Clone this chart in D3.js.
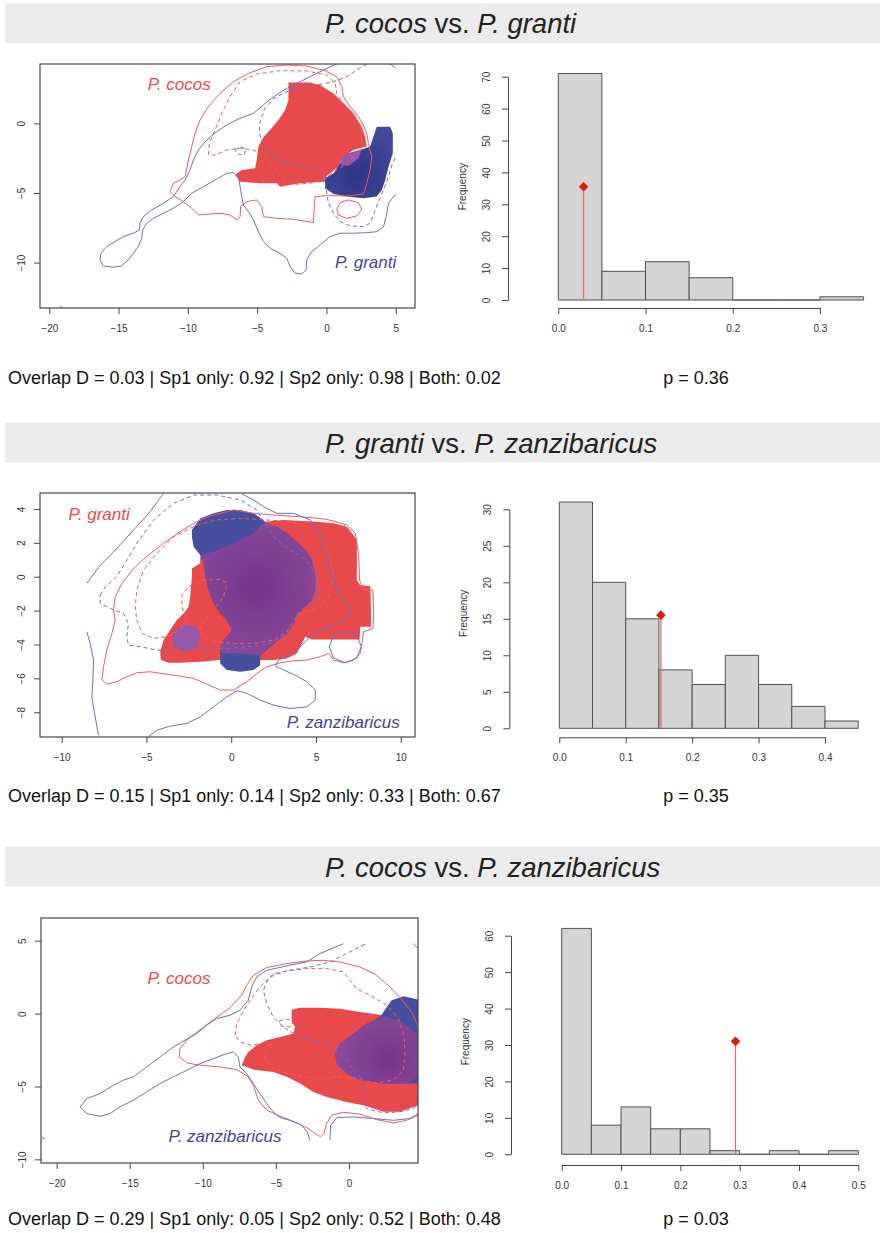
<!DOCTYPE html>
<html>
<head>
<meta charset="utf-8">
<script src="https://cdn.jsdelivr.net/npm/d3@7"></script>
<style>
body { margin: 0; background: #fff; }
svg text { font-family: "Liberation Sans", Arial, sans-serif; }
</style>
</head>
<body>
<svg id="chart" width="880" height="1233"></svg>
<script>
// ---- titles and summary text ----
const titleSpecies = [
    ["P. cocos", "P. granti"],
    ["P. granti", "P. zanzibaricus"],
    ["P. cocos", "P. zanzibaricus"]
];
const statLines = [
    "Overlap D = 0.03 | Sp1 only: 0.92 | Sp2 only: 0.98 | Both: 0.02",
    "Overlap D = 0.15 | Sp1 only: 0.14 | Sp2 only: 0.33 | Both: 0.67",
    "Overlap D = 0.29 | Sp1 only: 0.05 | Sp2 only: 0.52 | Both: 0.48"
];
const pLines = ["p = 0.36", "p = 0.35", "p = 0.03"];

// ---- null distribution histograms ----
const histBreaks = [
    [0, 0.05, 0.1, 0.15, 0.2, 0.25, 0.3, 0.35],
    [0, 0.05, 0.1, 0.15, 0.2, 0.25, 0.3, 0.35, 0.4, 0.45],
    [0, 0.05, 0.1, 0.15, 0.2, 0.25, 0.3, 0.35, 0.4, 0.45, 0.5]
];
const histCounts = [
    [71, 9, 12, 7, 0, 0, 1],
    [31, 20, 15, 8, 6, 10, 6, 3, 1],
    [62, 8, 13, 7, 7, 1, 0, 1, 0, 1]
];
const histXTicks = [
    [0, 0.1, 0.2, 0.3],
    [0, 0.1, 0.2, 0.3, 0.4],
    [0, 0.1, 0.2, 0.3, 0.4, 0.5]
];
const histYTicks = [
    [0, 10, 20, 30, 40, 50, 60, 70],
    [0, 5, 10, 15, 20, 25, 30],
    [0, 10, 20, 30, 40, 50, 60]
];
const observedD = [0.029, 0.153, 0.293];
const observedMark = [35.5, 15.5, 31];

// ---- niche space axes ----
const nicheXDomain = [[-20.67, 6.39], [-11.28, 10.84], [-21.07, 4.72]];
const nicheYDomain = [[-13.26, 4.26], [-9.46, 4.94], [-10.25, 6.56]];
const nicheXTicks = [[-20, -15, -10, -5, 0, 5], [-10, -5, 0, 5, 10], [-20, -15, -10, -5, 0]];
const nicheYTicks = [[-10, -5, 0], [-8, -6, -4, -2, 0, 2, 4], [-10, -5, 0, 5]];

// ---- P. cocos vs P. granti ----
const cgRedFill = [[-2.74,2.94],[-1.18,2.94],[-0.46,2.75],[0.51,2.15],[1.23,1.44],[1.95,0.72],[2.55,-0.24],[2.79,-0.96],[2.91,-1.67],[1.95,-1.91],[1.23,-2.39],[0.87,-3.11],[0.02,-3.78],[-0.10,-4.19],[-0.94,-4.23],[-1.90,-4.31],[-2.62,-4.43],[-3.35,-4.55],[-3.59,-4.31],[-4.79,-4.31],[-6.23,-4.19],[-6.59,-3.71],[-6.11,-3.35],[-5.15,-3.23],[-5.03,-2.63],[-4.91,-1.67],[-4.55,-1.00],[-4.07,-0.48],[-3.47,0.24],[-2.98,0.96],[-2.74,1.67]];
const cgBlueFill = [[3.63,-0.24],[4.60,-0.24],[4.79,-0.72],[4.79,-2.15],[4.48,-3.11],[4.24,-4.07],[4.00,-4.78],[3.63,-5.26],[2.67,-5.38],[1.47,-5.26],[0.51,-5.07],[-0.10,-4.67],[-0.10,-3.95],[0.51,-3.59],[0.99,-2.87],[1.47,-2.27],[2.43,-1.91],[3.15,-1.67],[3.39,-0.96]];
const cgOverlap = [[1.35,-2.20],[2.55,-1.87],[2.31,-2.51],[1.59,-3.06],[1.03,-2.99],[1.11,-2.51]];
const cgRedOuter = [[-10.20,-3.83],[-9.96,-2.63],[-9.72,-1.67],[-9.48,-0.72],[-9.12,0.24],[-8.52,1.20],[-7.68,2.15],[-6.71,2.99],[-5.63,3.59],[-4.31,4.07],[-2.86,4.19],[-1.42,4.11],[-0.10,3.78],[0.75,3.35],[1.11,2.63],[1.23,1.91],[1.71,1.20],[2.31,0.48],[2.67,-0.12],[2.91,-0.72],[3.03,-1.44],[3.27,-2.39],[3.15,-3.35],[2.91,-4.31],[2.67,-5.07],[1.47,-5.22],[0.02,-5.19],[-0.82,-5.26],[-0.89,-6.22],[-0.94,-7.13],[-2.38,-6.89],[-3.59,-6.82],[-4.55,-6.70],[-4.67,-5.98],[-5.03,-5.50],[-5.75,-5.62],[-6.19,-5.98],[-6.23,-6.70],[-6.47,-6.94],[-6.96,-6.58],[-7.68,-6.46],[-8.40,-6.51],[-9.24,-6.58],[-9.72,-6.10],[-10.32,-5.62],[-10.93,-5.26],[-11.29,-4.90],[-11.05,-4.31],[-10.57,-4.07]];
const cgRedLoop = [[0.75,-6.17],[0.99,-5.69],[1.59,-5.50],[2.31,-5.69],[2.55,-6.17],[2.19,-6.65],[1.47,-6.82],[0.87,-6.58]];
const cgRedInner = [[-8.52,-2.27],[-8.45,-1.44],[-8.04,-0.48],[-7.56,0.72],[-6.96,1.91],[-6.23,2.99],[-5.03,3.54],[-3.35,3.78],[-1.42,3.76],[0.02,3.47],[0.63,2.87],[0.75,2.15],[1.23,1.44],[2.07,0.48],[2.67,-0.72],[2.43,-1.91],[1.47,-2.87],[0.26,-3.71],[-0.94,-4.26],[-2.14,-4.38],[-2.98,-4.07],[-3.59,-3.35],[-4.31,-2.51],[-5.27,-1.91],[-6.23,-1.79],[-7.20,-1.91],[-8.04,-2.27]];
const cgBlueOuter = [[0.75,4.26],[0.02,3.95],[-0.94,3.47],[-1.90,2.99],[-2.86,2.51],[-3.83,1.91],[-4.55,1.32],[-5.27,0.72],[-6.23,0.36],[-7.20,-0.12],[-7.92,-0.60],[-8.64,-1.20],[-9.24,-1.91],[-9.60,-2.63],[-9.84,-3.35],[-10.20,-4.07],[-10.57,-4.55],[-11.05,-5.26],[-11.77,-5.74],[-12.61,-6.22],[-13.21,-6.70],[-13.45,-7.18],[-13.50,-7.66],[-13.94,-7.89],[-14.66,-8.13],[-15.26,-8.49],[-15.86,-8.85],[-16.27,-9.33],[-16.34,-9.81],[-16.10,-10.24],[-15.38,-10.33],[-14.78,-10.24],[-14.30,-9.81],[-13.94,-9.33],[-13.57,-8.85],[-13.33,-8.25],[-13.26,-7.66],[-12.97,-7.18],[-12.49,-6.82],[-11.77,-6.46],[-11.05,-6.10],[-10.32,-5.62],[-9.72,-5.02],[-8.88,-4.55],[-8.04,-4.07],[-7.20,-3.59],[-6.71,-3.54],[-6.35,-3.83],[-6.23,-4.55],[-6.11,-5.26],[-5.99,-5.86],[-5.63,-6.34],[-5.27,-6.94],[-4.91,-7.78],[-4.55,-8.49],[-4.07,-8.97],[-3.35,-9.33],[-2.86,-9.69],[-2.62,-10.29],[-2.26,-10.77],[-1.78,-10.81],[-1.47,-10.53],[-1.42,-9.81],[-1.06,-9.21],[-0.46,-8.73],[0.26,-8.13],[0.99,-7.89],[1.95,-7.89],[2.91,-7.85],[3.63,-7.78],[4.12,-7.42],[4.31,-6.70],[4.48,-5.74],[4.84,-5.26],[5.01,-5.14]];
const cgBlueOuterTip = [[4.60,4.26],[5.01,3.95]];
const cgBlueStray = [[-19.2,-13.1],[-19.0,-13.4]];
const cgBlueInner = [[2.91,4.26],[2.19,3.83],[1.47,3.35],[0.51,2.99],[-0.70,2.75],[-1.90,2.51],[-2.86,2.27],[-3.83,1.79],[-4.43,1.08],[-4.79,0.12],[-4.84,-0.72],[-4.67,-1.32],[-4.19,-1.91],[-3.59,-2.51],[-2.62,-2.87],[-1.42,-2.99],[-0.46,-3.30],[-0.10,-3.83],[-0.02,-4.78],[0.14,-5.74],[0.51,-6.46],[0.99,-7.06],[1.71,-7.37],[2.67,-7.42],[3.15,-7.18],[3.39,-6.58],[3.75,-5.62],[4.12,-4.78],[4.48,-3.83],[4.72,-2.99],[5.01,-2.39]];
const cgBlueInnerLoop = [[-6.59,-1.91],[-6.23,-1.67],[-5.80,-1.87],[-5.94,-2.27],[-6.43,-2.20]];

// ---- P. granti vs P. zanzibaricus ----
const gzRedFill = [[-2.32,0.00],[-2.32,0.49],[-1.83,0.79],[-1.83,1.18],[-1.04,1.38],[0.14,1.97],[1.32,2.56],[1.91,3.25],[3.09,3.35],[5.05,3.25],[6.04,3.15],[6.82,2.95],[7.12,2.56],[7.41,2.17],[7.41,1.18],[7.41,-0.20],[7.61,-0.51],[8.20,-0.55],[8.24,-1.77],[8.24,-2.95],[7.61,-2.95],[7.57,-3.70],[5.25,-3.70],[4.76,-3.70],[4.37,-3.54],[4.17,-3.94],[3.87,-4.53],[3.28,-4.82],[2.50,-4.92],[1.71,-4.92],[0.92,-4.92],[0.14,-4.96],[-0.65,-4.92],[-1.83,-5.02],[-3.01,-5.08],[-3.70,-5.08],[-4.15,-4.92],[-4.19,-4.43],[-3.99,-3.74],[-3.60,-3.15],[-3.21,-2.56],[-2.81,-2.17],[-2.52,-1.77],[-2.42,-1.18]];
const gzBlueFill = [[-2.32,2.76],[-1.83,3.44],[-1.04,3.74],[-0.26,3.94],[0.53,3.94],[1.32,3.74],[1.91,3.35],[2.10,3.05],[2.69,2.95],[3.28,2.56],[3.87,2.07],[4.46,1.48],[4.76,0.98],[4.96,0.00],[4.96,-0.79],[4.76,-1.38],[4.27,-1.87],[3.87,-2.26],[3.68,-2.76],[3.28,-3.35],[2.79,-3.74],[2.10,-4.33],[1.71,-4.63],[1.71,-5.22],[1.32,-5.51],[0.53,-5.61],[-0.26,-5.51],[-0.65,-5.12],[-0.65,-4.33],[-0.55,-3.84],[-0.26,-3.54],[0.04,-3.15],[-0.26,-2.56],[-0.65,-2.17],[-1.04,-1.57],[-1.34,-0.79],[-1.53,0.00],[-1.63,0.79],[-1.83,1.28],[-2.22,1.77],[-2.32,2.36]];
const gzOverlap = [[-1.83,1.28],[-1.04,1.48],[0.14,1.97],[1.32,2.56],[1.91,3.15],[2.69,2.95],[3.28,2.56],[3.87,2.07],[4.46,1.48],[4.76,0.98],[4.96,0.00],[4.96,-0.79],[4.76,-1.38],[4.27,-1.87],[3.87,-2.26],[3.68,-2.76],[3.28,-3.35],[2.79,-3.74],[2.10,-4.23],[1.71,-4.63],[0.53,-4.53],[-0.45,-4.53],[-0.65,-4.33],[-0.55,-3.84],[-0.26,-3.54],[0.04,-3.15],[-0.26,-2.56],[-0.65,-2.17],[-1.04,-1.57],[-1.34,-0.79],[-1.53,0.00],[-1.63,0.79]];
const gzOverlapSmall = [[-3.50,-3.54],[-3.30,-3.05],[-2.71,-2.85],[-2.03,-2.95],[-1.83,-3.54],[-2.03,-4.23],[-2.71,-4.43],[-3.40,-4.13]];
const gzRedOuter = [[-7.63,-6.10],[-7.53,-5.31],[-7.34,-4.33],[-7.04,-3.35],[-6.84,-2.56],[-6.94,-1.97],[-6.84,-1.18],[-6.45,-0.39],[-5.76,0.49],[-4.88,1.28],[-3.99,1.97],[-3.01,2.66],[-2.03,3.25],[-1.04,3.64],[0.14,3.94],[1.32,3.74],[2.50,3.64],[4.07,3.54],[5.64,3.39],[6.82,3.05],[7.32,2.56],[7.51,1.38],[7.57,-0.20],[7.81,-0.79],[8.36,-0.79],[8.40,-2.17],[8.36,-3.05],[7.81,-3.25],[7.71,-3.94],[7.61,-4.53],[7.22,-4.92],[6.63,-5.08],[6.04,-4.92],[5.74,-4.53],[5.25,-4.72],[4.46,-4.92],[3.68,-4.96],[2.89,-5.08],[2.10,-5.31],[1.51,-5.71],[0.92,-6.20],[0.14,-6.69],[-0.65,-6.69],[-1.44,-6.34],[-2.22,-6.00],[-3.01,-5.87],[-3.80,-5.75],[-4.78,-5.61],[-5.57,-5.67],[-6.16,-5.91],[-6.75,-6.20],[-7.34,-6.34]];
const gzRedInner = [[-2.03,3.05],[-0.85,3.35],[0.53,3.44],[2.10,3.35],[3.48,3.25],[4.46,2.95],[5.25,2.36],[5.84,1.18],[6.04,0.00],[5.74,-1.18],[5.15,-1.87],[4.27,-2.07],[3.68,-2.56],[3.28,-3.25],[2.50,-3.74],[1.32,-3.94],[0.14,-3.94],[-0.85,-3.84],[-1.44,-3.64],[-1.83,-3.25],[-1.63,-2.56],[-1.04,-1.97],[-0.45,-1.18],[-0.26,-0.39],[-0.65,-0.16],[-1.63,-0.20],[-2.52,-0.59],[-2.91,-1.08],[-2.91,-1.77],[-2.62,-2.56],[-3.01,-3.15],[-3.80,-3.54],[-4.58,-3.64],[-5.27,-3.35],[-5.57,-2.56],[-5.66,-1.77],[-5.57,-0.79],[-5.17,0.39],[-4.48,1.28],[-3.40,2.36]];
const gzBlueOuterA = [[-3.99,4.92],[-4.78,3.84],[-5.76,2.76],[-6.84,1.57],[-7.83,0.55],[-8.52,-0.39]];
const gzBlueOuterB = [[-8.52,-3.25],[-8.32,-3.94],[-8.12,-4.92],[-8.16,-6.10],[-8.22,-7.09],[-8.06,-8.07],[-7.83,-9.35]];
const gzBlueOuterC = [[-4.88,-9.45],[-4.39,-9.06],[-3.60,-8.82],[-2.62,-8.66],[-1.83,-8.27],[-1.04,-7.68],[-0.26,-7.09],[0.33,-6.73],[0.92,-6.89],[1.71,-7.28],[2.50,-7.58],[3.48,-7.78],[4.46,-7.68],[4.96,-7.28],[4.96,-6.69],[4.46,-6.20],[3.78,-5.81],[3.09,-5.51],[2.60,-5.28],[2.79,-4.92],[3.38,-4.63],[3.97,-4.23],[4.56,-3.64],[5.25,-3.15],[6.04,-2.85],[6.82,-2.36],[7.12,-2.07],[6.82,-1.67],[6.23,-0.79],[5.84,0.39],[5.55,1.57],[5.25,2.56],[4.66,3.35],[3.68,3.74],[2.69,3.74],[1.91,4.13],[1.32,4.53],[0.63,4.88]];
const gzBlueLoop = [[5.78,-4.13],[6.04,-3.46],[6.73,-3.19],[7.41,-3.46],[7.67,-4.13],[7.41,-4.80],[6.73,-5.08],[6.04,-4.80]];
const gzBlueInner = [[-7.73,-1.08],[-7.43,-0.59],[-6.75,0.00],[-6.16,0.98],[-5.57,1.97],[-4.58,3.35],[-3.40,4.33],[-2.22,4.82],[-0.85,4.82],[0.53,4.53],[1.51,3.94],[2.10,2.95],[2.69,2.17],[3.48,1.57],[4.46,0.98],[5.05,0.00],[5.15,-0.79],[4.86,-1.57],[4.07,-1.97],[3.68,-2.56],[3.28,-3.35],[2.69,-3.74],[1.91,-4.04],[0.92,-4.13],[-0.26,-4.23],[-1.83,-4.23],[-3.40,-4.33],[-4.39,-4.33],[-5.37,-4.13],[-6.06,-4.04],[-6.16,-3.54],[-6.06,-2.76],[-6.35,-2.17],[-7.14,-1.87],[-7.73,-1.57]];

// ---- P. cocos vs P. zanzibaricus ----
const czRedFill = [[-3.92,0.27],[-3.35,0.41],[-1.98,0.41],[-0.62,0.34],[0.75,0.11],[2.35,-0.11],[4.74,-0.46],[4.74,-4.34],[4.74,-6.29],[3.49,-6.74],[2.35,-6.74],[0.98,-6.29],[-0.16,-6.06],[-1.53,-5.72],[-2.44,-5.37],[-3.35,-4.80],[-4.26,-4.34],[-5.18,-4.00],[-6.54,-3.84],[-7.34,-3.54],[-7.11,-2.97],[-6.89,-2.63],[-6.32,-2.17],[-5.63,-1.83],[-4.72,-1.60],[-3.81,-1.37],[-3.69,-0.91],[-3.92,-0.57]];
const czBlueFill = [[2.46,0.27],[2.92,0.91],[3.72,1.19],[4.74,0.96],[4.74,-4.80],[3.94,-4.80],[2.35,-4.80],[0.75,-4.57],[-0.16,-4.12],[-0.84,-3.43],[-0.96,-2.74],[-0.62,-2.06],[0.30,-1.37],[1.21,-0.69],[2.12,-0.23]];
const czOverlap = [[1.09,-0.73],[2.35,-0.23],[3.49,-0.46],[4.74,-1.49],[4.74,-4.34],[3.94,-4.80],[2.35,-4.80],[0.75,-4.57],[-0.16,-4.12],[-0.84,-3.43],[-0.96,-2.74],[-0.62,-2.06],[0.30,-1.37]];
const czRedOuter = [[4.74,-6.97],[3.94,-7.32],[3.03,-7.50],[1.89,-7.27],[0.75,-6.90],[-0.39,-6.77],[-1.19,-6.97],[-1.53,-7.54],[-1.71,-8.23],[-1.94,-8.46],[-2.33,-8.23],[-2.78,-7.89],[-3.47,-7.54],[-4.49,-7.13],[-5.63,-6.63],[-6.20,-5.94],[-6.50,-5.03],[-6.89,-4.34],[-7.68,-3.84],[-8.82,-3.66],[-10.19,-3.54],[-11.10,-3.38],[-11.61,-2.97],[-11.56,-2.40],[-10.99,-1.71],[-10.08,-1.03],[-9.17,-0.34],[-8.14,0.41],[-7.34,1.26],[-7.00,1.94],[-6.54,2.63],[-5.63,3.16],[-4.26,3.43],[-2.90,3.61],[-1.76,3.66],[-0.62,3.54],[0.75,3.20],[1.78,2.70],[2.69,1.94],[3.49,1.10],[4.29,0.11],[4.74,-0.91]];
const czRedInner = [[-7.80,-1.49],[-7.68,-0.69],[-7.00,0.57],[-6.20,1.71],[-5.40,2.51],[-4.26,2.93],[-2.90,3.09],[-1.53,3.09],[-0.39,2.86],[0.07,2.29],[0.52,1.71],[1.44,1.26],[2.58,0.57],[3.37,-0.34],[3.76,-1.49],[3.83,-2.74],[3.72,-3.89],[3.03,-4.57],[1.89,-4.76],[0.75,-4.53],[0.07,-4.34],[-1.07,-4.34],[-1.98,-4.57],[-2.90,-4.34],[-4.04,-4.12],[-5.18,-3.77],[-5.75,-3.20],[-5.75,-2.63],[-5.40,-2.17],[-6.09,-2.06],[-6.77,-2.17],[-7.46,-1.94]];
const czRedInnerLoop = [[-4.77,-0.50],[-4.26,-0.37],[-3.81,-0.50],[-3.99,-0.91],[-4.61,-0.87]];
const czBlueOuterA = [[-0.39,4.80],[-1.98,4.12],[-2.90,3.54],[-4.04,3.32],[-5.63,2.97],[-6.32,2.51],[-6.66,1.83],[-6.89,0.91],[-7.46,0.23],[-8.14,-0.11],[-9.05,-0.34],[-9.74,-0.80],[-10.42,-1.37],[-11.22,-1.83],[-12.02,-2.29],[-12.93,-2.97],[-13.84,-3.66],[-14.75,-4.34],[-15.44,-4.57],[-16.12,-4.92],[-17.03,-5.49],[-17.94,-5.83],[-18.40,-6.40],[-17.94,-6.86],[-17.03,-7.04],[-16.35,-6.86],[-15.66,-6.40],[-14.75,-5.94],[-13.84,-5.37],[-12.93,-4.80],[-12.02,-4.34],[-11.10,-3.89],[-10.19,-3.43],[-9.28,-3.09],[-8.37,-2.74],[-7.91,-2.63],[-7.57,-2.97],[-7.46,-3.66],[-7.00,-4.12],[-6.54,-4.80],[-6.09,-5.49],[-5.63,-6.17],[-5.18,-6.74],[-4.72,-7.13],[-3.92,-7.36],[-3.24,-7.66],[-2.85,-8.12],[-2.67,-8.69]];
const czBlueOuterB = [[-1.30,-8.69],[-1.25,-7.66],[-0.84,-7.13],[0.30,-7.09],[1.66,-7.20],[3.03,-7.32],[4.17,-7.20],[4.74,-6.86]];
const czBlueOuterTip = [[4.40,4.80],[4.74,4.46]];
const czBlueStray = [[-21.0,-8.5],[-20.8,-8.6]];
const czBlueInner = [[1.09,4.76],[-0.16,4.12],[-1.30,3.54],[-2.67,3.20],[-4.04,2.97],[-5.18,2.74],[-5.63,2.17],[-5.86,1.60],[-5.63,0.69],[-5.18,-0.23],[-4.49,-0.91],[-3.81,-1.37],[-2.67,-1.83],[-1.53,-2.06],[-0.84,-2.51],[-0.16,-3.20],[0.30,-3.89],[0.75,-4.34],[1.09,-4.80],[0.98,-5.49],[0.87,-6.06],[1.21,-6.52],[2.35,-6.81],[3.49,-6.74],[4.40,-6.52],[4.74,-6.17]];

// ---- species labels inside the niche plots ----
const nicheLabels = [
    [{ text: "P. cocos", at: [-10.63, 2.79], sp: 1 }, { text: "P. granti", at: [2.83, -9.96], sp: 2 }],
    [{ text: "P. granti", at: [-7.79, 3.69], sp: 1 }, { text: "P. zanzibaricus", at: [6.61, -8.55], sp: 2 }],
    [{ text: "P. cocos", at: [-11.63, 2.47], sp: 1 }, { text: "P. zanzibaricus", at: [-8.48, -8.42], sp: 2 }]
];
// densest point of the blue and purple rasters
const densityPeaks = [[2.31, -3.71], [1.51, -0.59], [2.69, -3.09]];

// ---- page layout (pixels) ----
const layout = [
    { barTop: 3, box: [40, 415, 64, 308], statY: 384,
      hist: { axisX: 508, axisY: 308, x0: 558.3, x1: 863.6, y0: 300, y1: 76.7, labelY: 186.7 } },
    { barTop: 422.5, box: [40, 415, 493, 737], statY: 802,
      hist: { axisX: 509.3, axisY: 737.3, x0: 559.3, x1: 858.2, y0: 728.3, y1: 509.3, labelY: 613.3 } },
    { barTop: 846.5, box: [41, 418, 918, 1163], statY: 1225,
      hist: { axisX: 511, axisY: 1165, x0: 561.7, x1: 858.3, y0: 1154.3, y1: 935.7, labelY: 1041.7 } }
];

const colors = {
    red: "#e84a4c",
    blue: "#464f9f",
    blueDark: "#2c3587",
    purple: "#9459a6",
    purpleDark: "#76348a",
    redLine: "#f05a5a",
    blueLine: "#6a70c4",
    redText: "#ec4848",
    blueText: "#3d4498"
};

const panels = [
    {
        fills: [
            { pts: cgRedFill, fill: colors.red },
            { pts: cgBlueFill, grad: ["blue", colors.blueDark, colors.blue, 62] },
            { pts: cgOverlap, fill: colors.purple }
        ],
        lines: [
            { pts: cgRedOuter, closed: true, color: colors.redLine },
            { pts: cgRedLoop, closed: true, color: colors.redLine },
            { pts: cgRedInner, closed: true, color: colors.redLine, dash: true },
            { pts: cgBlueOuter, color: colors.blueLine },
            { pts: cgBlueOuterTip, color: colors.blueLine },
            { pts: cgBlueStray, color: colors.blueLine },
            { pts: cgBlueInner, color: colors.blueLine, dash: true },
            { pts: cgBlueInnerLoop, closed: true, color: colors.blueLine, dash: true }
        ]
    },
    {
        fills: [
            { pts: gzRedFill, fill: colors.red },
            { pts: gzBlueFill, fill: colors.blue },
            { pts: gzOverlap, grad: ["purple", colors.purpleDark, colors.purple, 120] },
            { pts: gzOverlapSmall, fill: colors.purple }
        ],
        lines: [
            { pts: gzRedOuter, closed: true, color: colors.redLine },
            { pts: gzRedInner, closed: true, color: colors.redLine, dash: true },
            { pts: gzBlueOuterA, color: colors.blueLine },
            { pts: gzBlueOuterB, color: colors.blueLine },
            { pts: gzBlueOuterC, color: colors.blueLine },
            { pts: gzBlueLoop, closed: true, color: colors.blueLine },
            { pts: gzBlueInner, closed: true, color: colors.blueLine, dash: true }
        ]
    },
    {
        fills: [
            { pts: czRedFill, fill: colors.red },
            { pts: czBlueFill, fill: colors.blue },
            { pts: czOverlap, grad: ["purple", colors.purpleDark, colors.purple, 80] }
        ],
        lines: [
            { pts: czRedOuter, color: colors.redLine },
            { pts: czRedInner, closed: true, color: colors.redLine, dash: true },
            { pts: czRedInnerLoop, closed: true, color: colors.redLine, dash: true },
            { pts: czBlueOuterA, color: colors.blueLine },
            { pts: czBlueOuterB, color: colors.blueLine },
            { pts: czBlueOuterTip, color: colors.blueLine },
            { pts: czBlueStray, color: colors.blueLine },
            { pts: czBlueInner, color: colors.blueLine, dash: true }
        ]
    }
];

const svg = d3.select("#chart");
const defs = svg.append("defs");

function drawTitle(i) {
    const L = layout[i];
    svg.append("rect")
        .attr("x", 5).attr("y", L.barTop)
        .attr("width", 875).attr("height", 40)
        .attr("fill", "#ebebeb");

    const t = svg.append("text")
        .attr("x", 325).attr("y", L.barTop + 30)
        .attr("font-size", 27.5)
        .attr("fill", "#222");
    t.append("tspan").attr("font-style", "italic").text(titleSpecies[i][0]);
    t.append("tspan").text(" vs. ");
    t.append("tspan").attr("font-style", "italic").text(titleSpecies[i][1]);
}

function styleAxis(g) {
    g.selectAll("path, line").attr("stroke", "#444").attr("stroke-width", 1);
    g.selectAll("text").attr("font-size", 10).attr("fill", "#333")
        .attr("font-family", "Liberation Sans, Arial, sans-serif");
}

function rotateYLabels(g, gap) {
    g.selectAll(".tick text")
        .attr("x", 0).attr("dy", 0)
        .attr("y", -gap)
        .attr("transform", "rotate(-90)")
        .attr("text-anchor", "middle");
}

function drawNiche(i) {
    const L = layout[i];
    const [bx0, bx1, by0, by1] = L.box;
    const x = d3.scaleLinear().domain(nicheXDomain[i]).range([bx0, bx1]);
    const y = d3.scaleLinear().domain(nicheYDomain[i]).range([by1, by0]);
    const line = d3.line().x(d => x(d[0])).y(d => y(d[1]));

    const clipId = `niche-clip-${i}`;
    defs.append("clipPath").attr("id", clipId)
        .append("rect")
        .attr("x", bx0).attr("y", by0)
        .attr("width", bx1 - bx0).attr("height", by1 - by0);

    const g = svg.append("g").attr("clip-path", `url(#${clipId})`);
    const panel = panels[i];

    // raster layers: species 1, species 2, then where both occur
    panel.fills.forEach((f, k) => {
        let paint = f.fill;
        if (f.grad) {
            const id = `grad-${i}-${k}`;
            const [cx, cy] = densityPeaks[i];
            const rg = defs.append("radialGradient")
                .attr("id", id)
                .attr("gradientUnits", "userSpaceOnUse")
                .attr("cx", x(cx)).attr("cy", y(cy))
                .attr("r", f.grad[3]);
            rg.append("stop").attr("offset", "0%").attr("stop-color", f.grad[1]);
            rg.append("stop").attr("offset", "100%").attr("stop-color", f.grad[2]);
            paint = `url(#${id})`;
        }
        g.append("path")
            .attr("d", line(f.pts) + "Z")
            .attr("fill", paint);
    });

    // envelope contours (solid = full range, dashed = inner quantile)
    panel.lines.forEach(l => {
        g.append("path")
            .attr("d", line(l.pts) + (l.closed ? "Z" : ""))
            .attr("fill", "none")
            .attr("stroke", l.color)
            .attr("stroke-width", 1)
            .attr("stroke-dasharray", l.dash ? "4,3" : null);
    });

    g.selectAll(".sp-label")
        .data(nicheLabels[i])
        .join("text")
        .attr("x", d => x(d.at[0]))
        .attr("y", d => y(d.at[1]))
        .attr("dy", "0.35em")
        .attr("text-anchor", "middle")
        .attr("font-size", 17)
        .attr("font-style", "italic")
        .attr("fill", d => d.sp === 1 ? colors.redText : colors.blueText)
        .text(d => d.text);

    const xAxis = svg.append("g")
        .attr("transform", `translate(0,${by1})`)
        .call(d3.axisBottom(x).tickValues(nicheXTicks[i]).tickSize(6).tickSizeOuter(0).tickPadding(11)
            .tickFormat(d3.format("d")));
    xAxis.select(".domain").remove();
    styleAxis(xAxis);

    const yAxis = svg.append("g")
        .attr("transform", `translate(${bx0},0)`)
        .call(d3.axisLeft(y).tickValues(nicheYTicks[i]).tickSize(6).tickSizeOuter(0)
            .tickFormat(d3.format("d")));
    yAxis.select(".domain").remove();
    styleAxis(yAxis);
    rotateYLabels(yAxis, 15);

    svg.append("rect")
        .attr("x", bx0).attr("y", by0)
        .attr("width", bx1 - bx0).attr("height", by1 - by0)
        .attr("fill", "none")
        .attr("stroke", "#444")
        .attr("stroke-width", 1.2);
}

function drawHistogram(i) {
    const H = layout[i].hist;
    const breaks = histBreaks[i];
    const counts = histCounts[i];
    const xt = histXTicks[i];
    const yt = histYTicks[i];

    const x = d3.scaleLinear().domain([breaks[0], breaks[breaks.length - 1]]).range([H.x0, H.x1]);
    const y = d3.scaleLinear().domain([yt[0], yt[yt.length - 1]]).range([H.y0, H.y1]);

    const bins = counts.map((c, k) => ({ lo: breaks[k], hi: breaks[k + 1], n: c }));

    // paths rather than rects so empty bins still leave their baseline stroke
    svg.append("g")
        .selectAll("path")
        .data(bins)
        .join("path")
        .attr("d", d => `M${x(d.lo)},${y(0)}V${y(d.n)}H${x(d.hi)}V${y(0)}Z`)
        .attr("fill", "#d4d4d4")
        .attr("stroke", "#505050")
        .attr("stroke-width", 1);

    // observed overlap
    svg.append("line")
        .attr("x1", x(observedD[i])).attr("x2", x(observedD[i]))
        .attr("y1", y(0)).attr("y2", y(observedMark[i]))
        .attr("stroke", "#f06464")
        .attr("stroke-width", 1.2);
    svg.append("path")
        .attr("d", d3.symbol(d3.symbolSquare, 46)())
        .attr("transform", `translate(${x(observedD[i])},${y(observedMark[i])}) rotate(45)`)
        .attr("fill", "#e3180c");

    // axes span first to last tick, like base R
    const xa = d3.scaleLinear().domain([xt[0], xt[xt.length - 1]]).range([x(xt[0]), x(xt[xt.length - 1])]);
    const xAxis = svg.append("g")
        .attr("transform", `translate(0,${H.axisY})`)
        .call(d3.axisBottom(xa).tickValues(xt).tickSize(6).tickSizeOuter(0).tickPadding(11)
            .tickFormat(d3.format(".1f")));
    styleAxis(xAxis);

    const yAxis = svg.append("g")
        .attr("transform", `translate(${H.axisX},0)`)
        .call(d3.axisLeft(y).tickValues(yt).tickSize(6).tickSizeOuter(0)
            .tickFormat(d3.format("d")));
    styleAxis(yAxis);
    rotateYLabels(yAxis, 18);

    svg.append("text")
        .attr("transform", `translate(${H.axisX - 42},${H.labelY}) rotate(-90)`)
        .attr("text-anchor", "middle")
        .attr("font-size", 10)
        .attr("fill", "#333")
        .text("Frequency");
}

function drawStats(i) {
    const L = layout[i];
    svg.append("text")
        .attr("x", 8).attr("y", L.statY)
        .attr("font-size", 18)
        .attr("fill", "#111")
        .text(statLines[i]);
    svg.append("text")
        .attr("x", 696).attr("y", L.statY)
        .attr("text-anchor", "middle")
        .attr("font-size", 18)
        .attr("fill", "#111")
        .text(pLines[i]);
}

titleSpecies.forEach((_, i) => {
    drawTitle(i);
    drawNiche(i);
    drawHistogram(i);
    drawStats(i);
});
</script>
</body>
</html>
